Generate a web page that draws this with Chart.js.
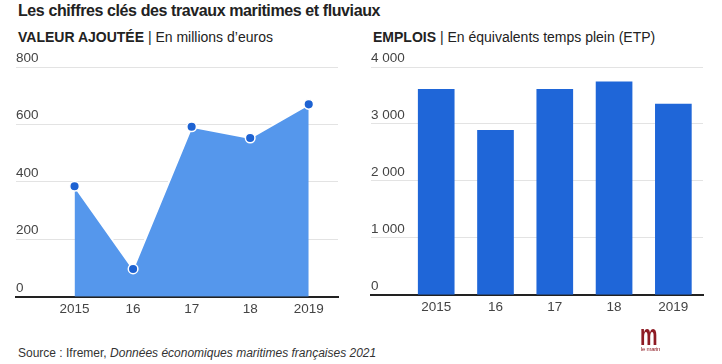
<!DOCTYPE html>
<html><head><meta charset="utf-8">
<script src="https://cdn.jsdelivr.net/npm/chart.js@4/dist/chart.umd.min.js"></script>
<style>
html,body{margin:0;padding:0;background:#fff;}
body{width:722px;height:364px;position:relative;overflow:hidden;font-family:"Liberation Sans",Arial,sans-serif;color:#222;}
.abs{position:absolute;white-space:nowrap;}
#title{left:18px;top:2px;font-size:16px;font-weight:bold;color:#222;letter-spacing:-0.4px;}
.sub{top:29px;font-size:14px;color:#222;}
#sub1{left:18px;} #sub2{left:373px;}
#src{left:18px;top:346px;font-size:12px;color:#333;}
#c1w{left:0;top:50px;width:360px;height:275px;}
#c2w{left:360px;top:50px;width:362px;height:275px;}
#logoM{left:640px;top:321px;font-size:29px;line-height:1;font-weight:bold;color:#8e1b24;transform:scaleX(0.68);transform-origin:left top;font-family:"Liberation Sans",Arial,sans-serif;}
#logoT{left:641px;top:346px;font-size:6px;line-height:1;color:#8e1b24;letter-spacing:-0.3px;}
</style></head>
<body>
<div id="title" class="abs">Les chiffres clés des travaux maritimes et fluviaux</div>
<div id="sub1" class="abs sub"><b>VALEUR AJOUTÉE</b> | En millions d’euros</div>
<div id="sub2" class="abs sub"><b>EMPLOIS</b> | En équivalents temps plein (ETP)</div>
<div id="c1w" class="abs"><canvas id="c1"></canvas></div>
<div id="c2w" class="abs"><canvas id="c2"></canvas></div>
<div id="src" class="abs">Source : Ifremer, <i>Données économiques maritimes françaises 2021</i></div>
<div id="logoM" class="abs">m</div>
<div id="logoT" class="abs">le marin</div>
<script>
const categories = ['2015', '16', '17', '18', '2019'];
const valeurAjoutee = [385, 97, 592, 553, 670];
const emplois = [3610, 2890, 3610, 3740, 3350];
const valeurTicks = [0, 200, 400, 600, 800];
const emploisTicks = [0, 1000, 2000, 3000, 4000];

const tickFont = {family: '"Liberation Sans", Arial, sans-serif', size: 13.5};
const tickColor = '#444';

function fr(n){ return n.toString().replace(/\B(?=(\d{3})+(?!\d))/g, ' '); }

function xScale(min){
  return {
    type: 'linear', min: min, max: 4.5, offset: false,
    afterBuildTicks: s => { s.ticks = categories.map((c,i)=>({value:i})); },
    ticks: {callback: v => categories[v] ?? '', font: tickFont, color: tickColor, padding: 4, maxRotation:0, autoSkip:false},
    grid: {display: false, drawTicks: false, offset: false},
    border: {display: true, color: '#222', width: 2}
  };
}
function yScale(max, ticksArr, fmt){
  return {
    min: 0, max: max,
    afterBuildTicks: s => { s.ticks = ticksArr.map(v=>({value:v})); },
    ticks: {mirror: true, padding: 0, labelOffset: -9, font: tickFont, color: tickColor, callback: fmt},
    grid: {color: '#e3e3e3', lineWidth: 1, drawTicks: false},
    border: {display: false}
  };
}

new Chart(document.getElementById('c1'), {
  type: 'line',
  data: {datasets: [{
    data: valeurAjoutee.map((v,i)=>({x:i, y:v})),
    fill: 'origin',
    backgroundColor: '#5597ec',
    borderColor: '#ffffff',
    borderWidth: 2,
    tension: 0,
    pointRadius: 4.8,
    pointBackgroundColor: '#1d62d2',
    pointBorderColor: '#ffffff',
    pointBorderWidth: 1.5
  }]},
  options: {
    responsive: true, maintainAspectRatio: false, animation: false,
    layout: {padding: {left: 16, right: 22, top: 17, bottom: 4}},
    plugins: {legend: {display: false}, tooltip: {enabled: false}},
    scales: {x: xScale(-1), y: yScale(800, valeurTicks, v => String(v))}
  }
});

new Chart(document.getElementById('c2'), {
  type: 'bar',
  data: {datasets: [{
    data: emplois.map((v,i)=>({x:i, y:v})),
    backgroundColor: '#1f66d8',
    borderWidth: 0,
    barThickness: 36
  }]},
  options: {
    responsive: true, maintainAspectRatio: false, animation: false,
    layout: {padding: {left: 11, right: 19, top: 17, bottom: 6}},
    plugins: {legend: {display: false}, tooltip: {enabled: false}},
    scales: {x: xScale(-1.1), y: yScale(4000, emploisTicks, v => fr(v))}
  }
});
</script>
</body></html>
